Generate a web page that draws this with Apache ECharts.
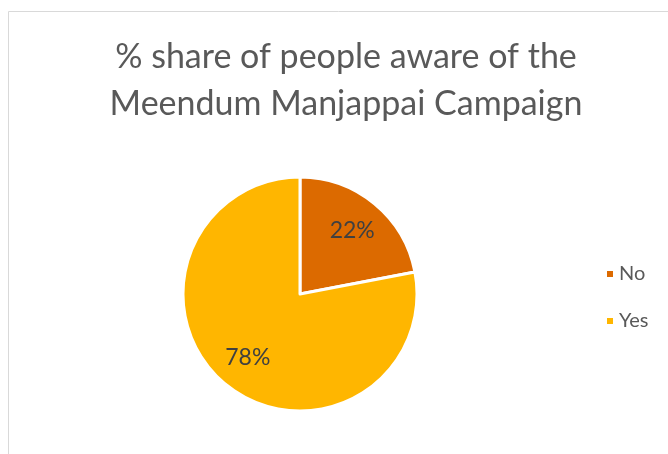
<!DOCTYPE html>
<html>
<head>
<meta charset="utf-8">
<script src="https://cdn.jsdelivr.net/npm/echarts@6/dist/echarts.min.js"></script>
<style>
  html, body { margin: 0; padding: 0; background: #fff; }
  #chart { width: 668px; height: 454px; }
</style>
</head>
<body>
<div id="chart"></div>
<script>
// Awareness survey: share of respondents
const categories = ['No', 'Yes'];
const shares = [22, 78];
const sliceColors = ['#DC6A00', '#FFB600'];
const titleLines = ['% share of people aware of the', 'Meendum Manjappai Campaign'];

const chart = echarts.init(document.getElementById('chart'));
const fontFamily = 'Lato, "Open Sans", sans-serif';
const pieCenter = [300, 294];
const pieRadius = 117;
// push the inside labels out to ~70% of the radius
const labelReach = 0.70;

chart.setOption({
  animation: false,
  graphic: [{
    type: 'rect',
    shape: { x: 8.5, y: 11.5, width: 700, height: 500 },
    style: { fill: 'none', stroke: '#D9D9D9', lineWidth: 1 }
  }],
  title: {
    text: titleLines.join('\n'),
    left: 341,
    top: 29,
    textAlign: 'center',
    textStyle: {
      fontFamily: fontFamily,
      fontWeight: 'normal',
      fontSize: 34,
      lineHeight: 47,
      color: '#595959'
    }
  },
  legend: {
    orient: 'vertical',
    left: 600,
    top: 259,
    itemWidth: 8,
    itemHeight: 8,
    itemGap: 27,
    icon: 'rect',
    textStyle: { fontFamily: fontFamily, fontSize: 20, color: '#595959' },
    data: categories
  },
  series: [{
    type: 'pie',
    center: pieCenter,
    radius: pieRadius,
    startAngle: 90,
    clockwise: true,
    label: {
      show: true,
      position: 'inside',
      formatter: '{c}%',
      fontFamily: fontFamily,
      fontSize: 23,
      color: '#404040'
    },
    labelLine: { show: false },
    labelLayout: function (params) {
      const r = params.labelRect;
      const mx = r.x + r.width / 2;
      const my = r.y + r.height / 2;
      const dx = mx - pieCenter[0];
      const dy = my - pieCenter[1];
      const d = Math.sqrt(dx * dx + dy * dy) || 1;
      const k = (labelReach * pieRadius) / d;
      return { x: pieCenter[0] + dx * k, y: pieCenter[1] + dy * k };
    },
    itemStyle: { borderColor: '#fff', borderWidth: 3 },
    data: categories.map((name, i) => ({
      name: name,
      value: shares[i],
      itemStyle: { color: sliceColors[i] }
    }))
  }]
});
</script>
</body>
</html>
